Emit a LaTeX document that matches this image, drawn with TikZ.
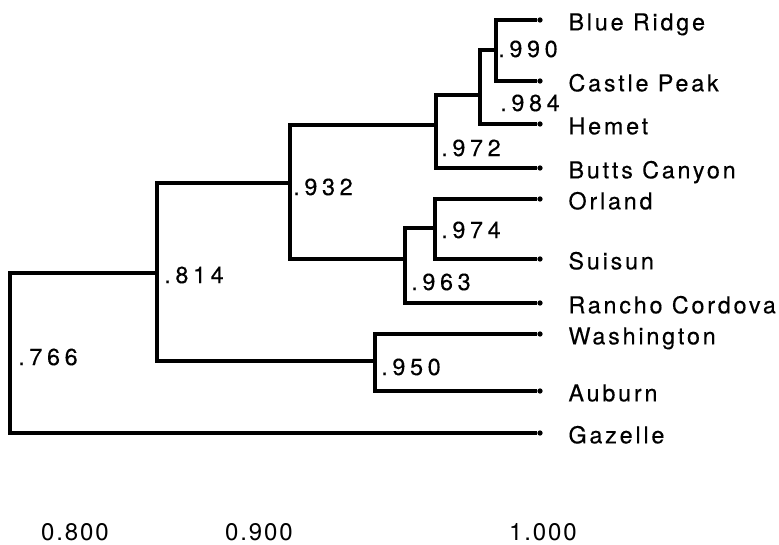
\documentclass[tikz,border=0pt]{standalone}
\usepackage{fontspec}
\setmainfont{TeX Gyre Heros}
\newfontfamily\taxfont[LetterSpace=12,FakeBold=0.3]{TeX Gyre Heros}
\newfontfamily\valfont[LetterSpace=20,FakeBold=0.3]{TeX Gyre Heros}
\newfontfamily\axisfont[LetterSpace=8]{TeX Gyre Heros}
\usetikzlibrary{positioning}
\begin{document}
\begin{tikzpicture}[x=.75pt,y=-.75pt,
  every node/.style={inner sep=0pt},
  limb/.style={line width=2.6pt,line join=miter},
  tip/.style={circle,fill=black,inner sep=1.4pt},
  taxon/.style={font=\taxfont\fontsize{17.5}{19}\selectfont,text height=12.5pt,text depth=0pt,yshift=-1.5pt},
  dist/.style={font=\valfont\fontsize{17.5}{19}\selectfont,anchor=west},
  tick/.style={font=\axisfont\fontsize{18}{20}\selectfont}]
\useasboundingbox (0,0) rectangle (779,545);
% leaves
\foreach \name/\y/\txt in {br/20/Blue Ridge,cp/81/Castle Peak,he/124/Hemet,
  bc/168/Butts Canyon,or/199/Orland,su/259/Suisun,rc/303/Rancho Cordova,
  wa/334/Washington,au/391/Auburn,ga/433/Gazelle}{
 \node[tip] (\name) at (540,\y) {};
 \node[taxon,right=19pt of \name] (t\name) {\txt};}
% clusters
\foreach \name/\x/\y in {n990/496/50,n984/480/95,n972/436/125,n974/435/228,
  n963/405/259,n932/290/183,n950/375/361,n814/157/273,n766/10/353}
 \coordinate (\name) at (\x,\y);
\draw[limb] (br) -| (n990) |- (cp);
\draw[limb] (n990) -| (n984) |- (he);
\draw[limb] (n984) -| (n972) |- (bc);
\draw[limb] (or) -| (n974) |- (su);
\draw[limb] (n974) -| (n963) |- (rc);
\draw[limb] (n972) -| (n932) |- (n963);
\draw[limb] (wa) -| (n950) |- (au);
\draw[limb] (n932) -| (n814) |- (n950);
\draw[limb] (n814) -| (n766) |- (ga);
% similarity values
\foreach \name/\x/\y/\val in {l990/498/49/.990,l984/500/103/.984,l972/441/148/.972,
  l932/293/187/.932,l974/441/230/.974,l963/411/282/.963,l814/164/275/.814,
  l950/381/367/.950,l766/18/357/.766}
 \node[dist] (\name) at (\x,\y) {\val};
% scale
\node[tick] (s800) at (75,532) {0.800};
\node[tick] (s900) at (259,532) {0.900};
\node[tick] (s1000) at (543,532) {1.000};
\end{tikzpicture}
\end{document}
